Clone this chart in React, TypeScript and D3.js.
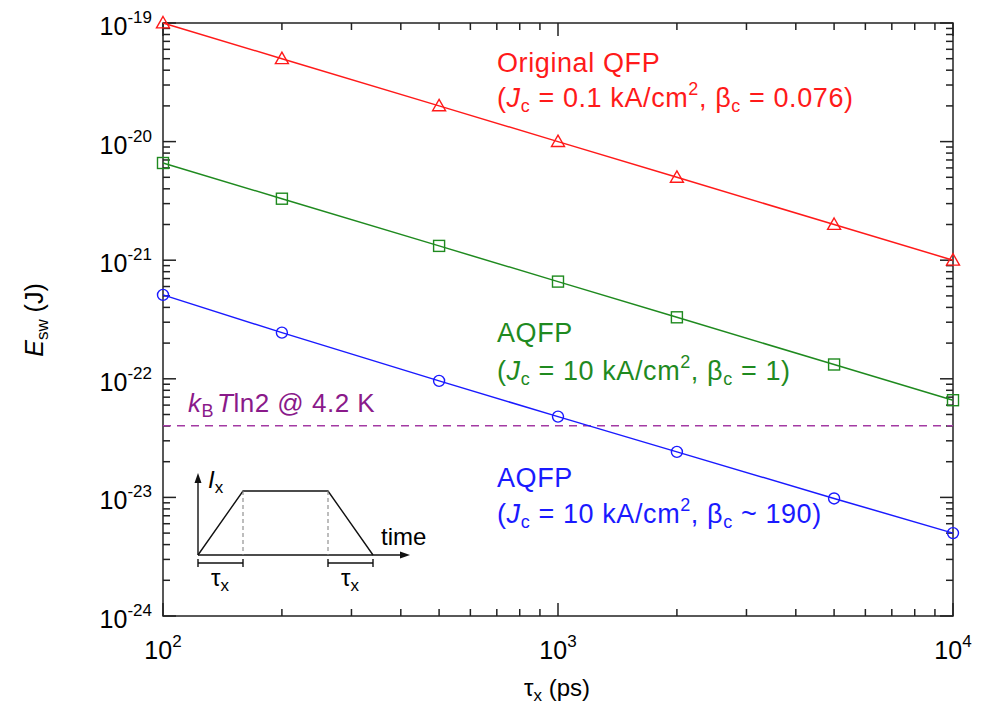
import React from "react";
import * as d3 from "d3";

const tau = [100, 200, 500, 1000, 2000, 5000, 10000];
const qfpOriginal = [1e-19, 5e-20, 2e-20, 1e-20, 5e-21, 2e-21, 1e-21];
const aqfpBeta1 = [6.6e-21, 3.3e-21, 1.32e-21, 6.6e-22, 3.3e-22, 1.32e-22, 6.6e-23];
const aqfpBeta190 = [5.1e-22, 2.45e-22, 9.6e-23, 4.8e-23, 2.42e-23, 9.8e-24, 5.0e-24];
const kTln2 = 4.02e-23;
const xTickExps = [2, 3, 4];
const yTickExps = [-19, -20, -21, -22, -23, -24];

const W = 994, H = 709;
const L = 163, R = 953, T = 23, B = 616;
const FONT = "'Liberation Sans', Arial, Helvetica, sans-serif";

const RED = "#ff1a1a";
const GREEN = "#1f8a1f";
const BLUE = "#1a1aff";
const PURPLE = "#8a1a8a";

export default function App() {
  const x = d3.scaleLog().domain([100, 10000]).range([L, R]);
  const y = d3.scaleLog().domain([1e-24, 1e-19]).range([B, T]);
  const line = d3.line<number>().x((_, i) => x(tau[i])).y((v) => y(v));

  const minorX: number[] = [];
  for (let e = 2; e < 4; e++) for (let m = 2; m <= 9; m++) minorX.push(m * Math.pow(10, e));
  const minorY: number[] = [];
  for (let e = -24; e < -19; e++) for (let m = 2; m <= 9; m++) minorY.push(m * Math.pow(10, e));

  const axisColor = "#222";
  const MAJ = 13, MIN = 7;

  const tri = (cx: number, cy: number) => {
    const s = 6.5;
    return `M${cx},${cy - s} L${cx + s},${cy + s * 0.75} L${cx - s},${cy + s * 0.75} Z`;
  };

  const ox = 198, oy = 555;

  const paren = (jc: string, beta: string) => (
    <>
      (<tspan fontStyle="italic">J</tspan><tspan fontSize={18} dy={5}>c</tspan>
      <tspan dy={-5}> = {jc} kA/cm</tspan><tspan fontSize={18} dy={-12}>2</tspan>
      <tspan dy={12}>, β</tspan><tspan fontSize={18} dy={5}>c</tspan>
      <tspan dy={-5}> {beta})</tspan>
    </>
  );

  return (
    <div style={{ position: "absolute", left: 0, top: 0 }}>
      <svg width={W} height={H} style={{ display: "block", background: "#fff" }} fontFamily={FONT}>
        <g stroke={axisColor} strokeWidth={1.5}>
          {xTickExps.map((e) => {
            const px = x(Math.pow(10, e));
            return (
              <g key={"xm" + e}>
                <line x1={px} x2={px} y1={B} y2={B - MAJ} />
                <line x1={px} x2={px} y1={T} y2={T + MAJ} />
              </g>
            );
          })}
          {minorX.map((v) => (
            <g key={"xn" + v}>
              <line x1={x(v)} x2={x(v)} y1={B} y2={B - MIN} />
              <line x1={x(v)} x2={x(v)} y1={T} y2={T + MIN} />
            </g>
          ))}
          {yTickExps.map((e) => {
            const py = y(Math.pow(10, e));
            return (
              <g key={"ym" + e}>
                <line x1={L} x2={L + MAJ} y1={py} y2={py} />
                <line x1={R} x2={R - MAJ} y1={py} y2={py} />
              </g>
            );
          })}
          {minorY.map((v) => (
            <g key={"yn" + v}>
              <line x1={L} x2={L + MIN} y1={y(v)} y2={y(v)} />
              <line x1={R} x2={R - MIN} y1={y(v)} y2={y(v)} />
            </g>
          ))}
          <rect x={L} y={T} width={R - L} height={B - T} fill="none" />
        </g>

        {xTickExps.map((e) => (
          <text key={"xl" + e} x={x(Math.pow(10, e))} y={659} fontSize={25} textAnchor="middle" fill="#000">
            10<tspan fontSize={17} dy={-12}>{e}</tspan>
          </text>
        ))}
        {yTickExps.map((e) => (
          <text key={"yl" + e} x={152} y={y(Math.pow(10, e)) + 12} fontSize={25} textAnchor="end" fill="#000">
            10<tspan fontSize={17} dy={-12}>{e}</tspan>
          </text>
        ))}

        <text x={557} y={696} fontSize={24} textAnchor="middle" fill="#000">
          τ<tspan fontSize={17} dy={5}>x</tspan>
          <tspan dy={-5}> (ps)</tspan>
        </text>
        <text transform={`translate(43,320) rotate(-90)`} fontSize={25} textAnchor="middle" fill="#000">
          <tspan fontStyle="italic">E</tspan>
          <tspan fontSize={17} dy={5}>sw</tspan>
          <tspan dy={-5}> (J)</tspan>
        </text>

        <line x1={L} x2={R} y1={y(kTln2)} y2={y(kTln2)} stroke="#a33aa3" strokeWidth={1.5} strokeDasharray="8,6" />
        <text x={188} y={412} fontSize={26} fill={PURPLE} letterSpacing={0.5}>
          <tspan fontStyle="italic">k</tspan>
          <tspan fontSize={18} dy={5}>B</tspan>
          <tspan dy={-5} dx={3} fontStyle="italic">T</tspan>
          <tspan>ln2 @ 4.2 K</tspan>
        </text>

        <path d={line(qfpOriginal) || ""} fill="none" stroke={RED} strokeWidth={1.5} />
        {qfpOriginal.map((v, i) => (
          <path key={"r" + i} d={tri(x(tau[i]), y(v))} fill="none" stroke={RED} strokeWidth={1.4} />
        ))}
        <path d={line(aqfpBeta1) || ""} fill="none" stroke={GREEN} strokeWidth={1.5} />
        {aqfpBeta1.map((v, i) => (
          <rect key={"g" + i} x={x(tau[i]) - 5.5} y={y(v) - 5.5} width={11} height={11} fill="none" stroke={GREEN} strokeWidth={1.4} />
        ))}
        <path d={line(aqfpBeta190) || ""} fill="none" stroke={BLUE} strokeWidth={1.5} />
        {aqfpBeta190.map((v, i) => (
          <circle key={"b" + i} cx={x(tau[i])} cy={y(v)} r={5.5} fill="none" stroke={BLUE} strokeWidth={1.4} />
        ))}

        <g fontSize={27} letterSpacing={0.6}>
          <text x={497} y={72} fill={RED}>Original QFP</text>
          <text x={497} y={107} fill={RED}>{paren("0.1", "= 0.076")}</text>
          <text x={497} y={342} fill={GREEN}>AQFP</text>
          <text x={497} y={380} fill={GREEN}>{paren("10", "= 1")}</text>
          <text x={497} y={487} fill={BLUE}>AQFP</text>
          <text x={497} y={523} fill={BLUE}>{paren("10", "~ 190")}</text>
        </g>

        <g stroke="#111" strokeWidth={1.4} fill="none">
          <line x1={ox} y1={oy} x2={ox} y2={oy - 76} />
          <line x1={ox} y1={oy} x2={ox + 206} y2={oy} />
          <path d={`M${ox},${oy} L${ox + 45},${oy - 64} L${ox + 130},${oy - 64} L${ox + 175},${oy}`} />
          <line x1={ox} y1={oy + 8} x2={ox + 45} y2={oy + 8} />
          <line x1={ox} y1={oy + 4} x2={ox} y2={oy + 12} />
          <line x1={ox + 45} y1={oy + 4} x2={ox + 45} y2={oy + 12} />
          <line x1={ox + 130} y1={oy + 8} x2={ox + 175} y2={oy + 8} />
          <line x1={ox + 130} y1={oy + 4} x2={ox + 130} y2={oy + 12} />
          <line x1={ox + 175} y1={oy + 4} x2={ox + 175} y2={oy + 12} />
        </g>
        <g stroke="#888" strokeWidth={1.1} strokeDasharray="4,3">
          <line x1={ox + 45} y1={oy - 64} x2={ox + 45} y2={oy} />
          <line x1={ox + 130} y1={oy - 64} x2={ox + 130} y2={oy} />
        </g>
        <path d={`M${ox},${oy - 82} L${ox - 3.5},${oy - 72} L${ox + 3.5},${oy - 72} Z`} fill="#111" />
        <path d={`M${ox + 212},${oy} L${ox + 202},${oy - 3.5} L${ox + 202},${oy + 3.5} Z`} fill="#111" />
        <text x={ox + 10} y={oy - 67} fontSize={24} fill="#000">
          <tspan fontStyle="italic">I</tspan><tspan fontSize={17} dy={5}>x</tspan>
        </text>
        <text x={ox + 183} y={oy - 10} fontSize={24} fill="#000">time</text>
        <text x={ox + 22} y={oy + 31} fontSize={24} fill="#000" textAnchor="middle">
          τ<tspan fontSize={17} dy={5}>x</tspan>
        </text>
        <text x={ox + 152} y={oy + 31} fontSize={24} fill="#000" textAnchor="middle">
          τ<tspan fontSize={17} dy={5}>x</tspan>
        </text>
      </svg>
    </div>
  );
}
